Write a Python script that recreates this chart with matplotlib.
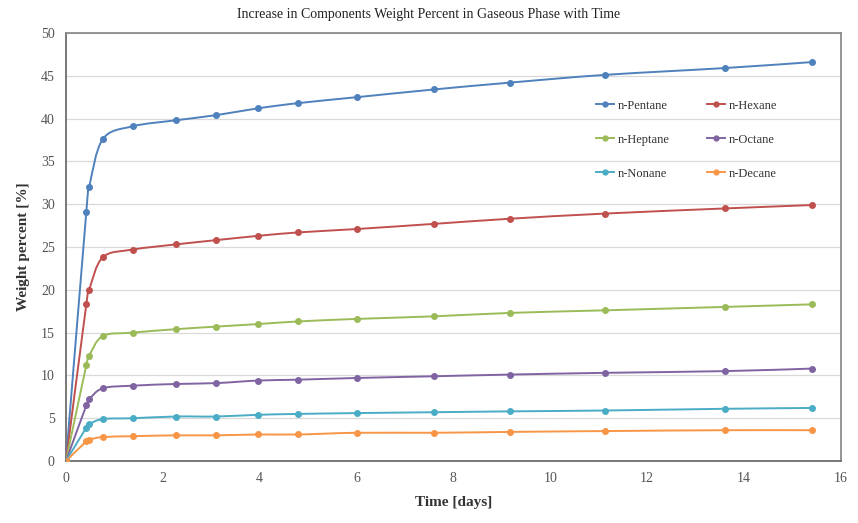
import numpy as np
import matplotlib.pyplot as plt
from matplotlib.path import Path
from matplotlib.patches import PathPatch

# sampling times [days]
tiempo = [0, 0.42, 0.48, 0.76, 1.38, 2.27, 3.10, 3.97, 4.79, 6.01, 7.60, 9.17, 11.12, 13.60, 15.41]

pentano = [0, 29.1, 32.0, 37.6, 39.1, 39.8, 40.4, 41.2, 41.8, 42.5, 43.4, 44.2, 45.1, 45.9, 46.6]
hexano = [0, 18.3, 20.0, 23.8, 24.7, 25.3, 25.8, 26.3, 26.7, 27.1, 27.7, 28.3, 28.9, 29.5, 29.9]
heptano = [0, 11.2, 12.3, 14.6, 15.0, 15.4, 15.7, 16.0, 16.3, 16.6, 16.9, 17.3, 17.6, 18.0, 18.3]
octano = [0, 6.5, 7.2, 8.5, 8.8, 9.0, 9.1, 9.4, 9.5, 9.7, 9.9, 10.1, 10.3, 10.5, 10.8]
nonano = [0, 3.9, 4.3, 4.9, 5.0, 5.2, 5.2, 5.4, 5.5, 5.6, 5.7, 5.8, 5.9, 6.1, 6.2]
decano = [0, 2.3, 2.5, 2.8, 2.9, 3.0, 3.0, 3.1, 3.1, 3.3, 3.3, 3.4, 3.5, 3.6, 3.6]

nombres = ['n-Pentane', 'n-Hexane', 'n-Heptane', 'n-Octane', 'n-Nonane', 'n-Decane']
series = [pentano, hexano, heptano, octano, nonano, decano]
colores = ['#4F81BD', '#C0504D', '#9BBB59', '#8064A2', '#4BACC6', '#F79646']


def curva_suave(x, y, tension=1/6):
    # cubic Bezier path through the points (Catmull-Rom style tangents)
    x = np.asarray(x, float)
    y = np.asarray(y, float)
    verts = [(x[0], y[0])]
    codes = [Path.MOVETO]
    n = len(x)
    for i in range(n - 1):
        x0, y0 = (x[i - 1], y[i - 1]) if i > 0 else (x[i], y[i])
        x3, y3 = (x[i + 2], y[i + 2]) if i + 2 < n else (x[i + 1], y[i + 1])
        c1 = (x[i] + tension * (x[i + 1] - x0), y[i] + tension * (y[i + 1] - y0))
        c2 = (x[i + 1] - tension * (x3 - x[i]), y[i + 1] - tension * (y3 - y[i]))
        verts += [c1, c2, (x[i + 1], y[i + 1])]
        codes += [Path.CURVE4] * 3
    return Path(verts, codes)


plt.rcParams['font.family'] = ['Liberation Serif', 'DejaVu Serif']

fig = plt.figure(figsize=(8.58, 5.23), dpi=100)
ax = fig.add_axes([0.0769, 0.1185, 0.9031, 0.8185])

handles = []
for nombre, valores, color in zip(nombres, series, colores):
    ax.add_patch(PathPatch(curva_suave(tiempo, valores), facecolor='none',
                           edgecolor=color, lw=1.4, zorder=3))
    ax.plot(tiempo, valores, ls='none', marker='o', ms=4, color=color, zorder=4)
    # legend proxy
    h, = ax.plot([], [], color=color, lw=1.4, marker='o', ms=3.5, label=nombre)
    handles.append(h)

ax.set_xlim(0, 16)
ax.set_ylim(0, 50)
ax.set_xticks(np.arange(0, 17, 2))
ax.set_yticks(np.arange(0, 51, 5))
ax.yaxis.grid(True, color='#d9d9d9', lw=0.9)
ax.set_axisbelow(True)
ax.tick_params(length=0, labelsize=10, labelcolor='#555555', pad=8)

for lado in ['top', 'right']:
    ax.spines[lado].set_color('#8c8c8c')
for lado in ['left', 'bottom']:
    ax.spines[lado].set_color('#6e6e6e')
for sp in ax.spines.values():
    sp.set_linewidth(1.3)

ax.set_xlabel('Time [days]', fontsize=11, fontweight='bold', color='#333333', labelpad=8)
ax.set_ylabel('Weight percent [%]', fontsize=11, fontweight='bold', color='#333333', labelpad=8)
fig.text(0.5, 0.972, 'Increase in Components Weight Percent in Gaseous Phase with Time',
         ha='center', va='center', fontsize=10, color='#222222')

# two columns filled row by row
orden = [0, 2, 4, 1, 3, 5]
ax.legend([handles[i] for i in orden], [nombres[i] for i in orden],
          loc='upper left', bbox_to_anchor=(0.67, 0.87), ncol=2, frameon=False,
          fontsize=9, handlelength=1.4, handletextpad=0.3, labelspacing=1.75,
          columnspacing=3.0, labelcolor='#333333')

fig.savefig('out.png', dpi=100)
